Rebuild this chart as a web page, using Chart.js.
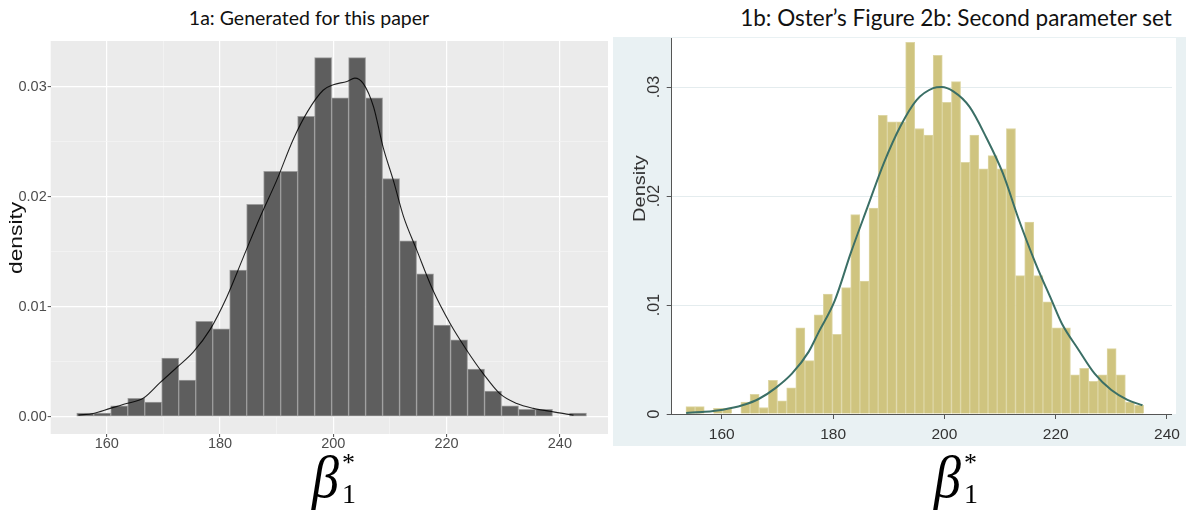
<!DOCTYPE html>
<html>
<head>
<meta charset="utf-8">
<script src="https://cdn.jsdelivr.net/npm/chart.js@4.4.1/dist/chart.umd.min.js"></script>
<style>
  html, body { margin: 0; padding: 0; background: #fff; }
  body { width: 1186px; height: 512px; position: relative; overflow: hidden; }
  .box { position: absolute; }
  .ttl { position: absolute; white-space: nowrap; font-family: Lato, "Open Sans", sans-serif; color: #111; transform: translateX(-50%); line-height: 1.2; }
  .ytitle { position: absolute; white-space: nowrap; transform-origin: 0 0; line-height: 1; }
  .beta { position: absolute; font-family: "Liberation Serif", "DejaVu Serif", serif; font-style: italic; color: #000; line-height: 1; }
  .beta .b { font-size: 54px; display: inline-block; transform: scaleY(1.1); }
  .beta .sp { position: absolute; font-size: 26px; font-style: normal; left: 30px; top: 0px; }
  .beta .sb { position: absolute; font-size: 28px; font-style: normal; left: 30px; top: 30px; }
</style>
</head>
<body>
<div class="ttl" style="left:309px; top:6px; font-size:19.5px;">1a: Generated for this paper</div>
<div class="ttl" style="left:956px; top:4px; font-size:22.5px;">1b: Oster’s Figure 2b: Second parameter set</div>

<div class="box" style="left:0; top:0; width:610px; height:460px;"><canvas id="ggHist"></canvas></div>
<div class="box" style="left:600px; top:0; width:586px; height:460px;"><canvas id="stataHist"></canvas></div>

<div class="ytitle" style="left:6px; top:274px; transform: rotate(-90deg) scaleX(1.2); font-family:'Liberation Sans',Arial,sans-serif; font-size:19px; color:#111;">density</div>
<div class="ytitle" style="left:631px; top:222px; transform: rotate(-90deg) scaleX(1.18); font-family:'Liberation Sans',Arial,sans-serif; font-size:17px; color:#333;">Density</div>

<div class="beta" style="left:312px; top:450px;"><span class="b">β</span><span class="sp">*</span><span class="sb">1</span></div>
<div class="beta" style="left:934px; top:450px;"><span class="b">β</span><span class="sp">*</span><span class="sb">1</span></div>

<script>
// ---------- 1a: ggplot-style histogram (30 bins of width 3) with kernel density ----------
const ggBinCenters = [156.2, 159.2, 162.2, 165.2, 168.2, 171.2, 174.2, 177.2, 180.2, 183.2,
                      186.2, 189.2, 192.2, 195.2, 198.2, 201.2, 204.2, 207.2, 210.2, 213.2,
                      216.2, 219.2, 222.2, 225.2, 228.2, 231.2, 234.2, 237.2, 240.2, 243.2];
const ggDensity = [0.00033, 0.00033, 0.00100, 0.00167, 0.00133, 0.00533, 0.00333, 0.00867, 0.00800, 0.01333,
                   0.01933, 0.02233, 0.02233, 0.02733, 0.03267, 0.02900, 0.03267, 0.02900, 0.02167, 0.01600,
                   0.01300, 0.00833, 0.00700, 0.00433, 0.00233, 0.00100, 0.00067, 0.00067, 0.00000, 0.00033];
const kdeX = [155.0, 157.6, 160.6, 163.5, 166.5, 169.4, 172.4, 175.3, 178.2, 181.2,
              184.1, 187.1, 190.0, 192.9, 195.5, 198.2, 200.0, 202.4, 203.8, 205.3,
              207.1, 208.8, 210.6, 212.4, 214.7, 217.6, 220.6, 223.5, 226.5, 229.4,
              232.4, 235.3, 238.2, 241.2, 242.4];
const kdeY = [0.00015, 0.0003, 0.00076, 0.0012, 0.0017, 0.0031, 0.0045, 0.0059, 0.0079, 0.0109,
              0.0145, 0.0182, 0.0215, 0.0252, 0.0278, 0.0297, 0.0302, 0.0305, 0.0308, 0.0303,
              0.0282, 0.0245, 0.0215, 0.0182, 0.0152, 0.0115, 0.0085, 0.0061, 0.0039, 0.0021,
              0.0012, 0.00076, 0.0005, 0.00024, 0.00015];
const ggXMajor = [160, 180, 200, 220, 240];
const ggXMinor = [170, 190, 210, 230];
const ggYMajor = [0, 0.01, 0.02, 0.03];
const ggYMinor = [0.005, 0.015, 0.025];
const ggYLabels = ['0.00', '0.01', '0.02', '0.03'];

// ---------- 1b: Stata-style histogram (50 bins) with normal density ----------
const stBinCenters = [154.38, 156.03, 157.67, 159.32, 160.96, 162.61, 164.25, 165.90, 167.54, 169.19,
                      170.83, 172.48, 174.12, 175.77, 177.41, 179.06, 180.70, 182.35, 183.99, 185.64,
                      187.28, 188.93, 190.57, 192.22, 193.86, 195.51, 197.15, 198.80, 200.44, 202.09,
                      203.73, 205.38, 207.02, 208.67, 210.31, 211.96, 213.60, 215.25, 216.89, 218.54,
                      220.18, 221.83, 223.47, 225.12, 226.76, 228.41, 230.05, 231.70, 233.34, 234.99];
const stDensity = [0.00067, 0.00067, 0.0, 0.00052, 0.00052, 0.0, 0.0011, 0.0018, 0.0006, 0.0031,
                   0.0012, 0.0024, 0.0079, 0.0049, 0.0091, 0.0110, 0.0073, 0.0116, 0.0183, 0.0122,
                   0.0189, 0.0274, 0.0268, 0.0268, 0.0341, 0.0262, 0.0256, 0.0329, 0.0286, 0.0305,
                   0.0231, 0.0256, 0.0225, 0.0237, 0.0225, 0.0262, 0.0127, 0.0176, 0.0127, 0.0103,
                   0.0079, 0.0079, 0.0036, 0.0042, 0.0030, 0.0036, 0.0060, 0.0036, 0.0011, 0.0008];
const normX = [153.6, 156.9, 160.2, 163.7, 166.7, 169.7, 172.6, 175.6, 177.3, 180.3,
               183.2, 186.2, 189.1, 192.1, 195.0, 198.0, 199.5, 201.6, 204.5, 207.5,
               210.5, 213.4, 216.4, 219.3, 221.1, 224.1, 227.0, 230.0, 232.9, 235.6];
const normY = [0.0001, 0.0002, 0.0004, 0.0008, 0.0014, 0.0024, 0.0037, 0.0057, 0.0074, 0.0104,
               0.0148, 0.0190, 0.0230, 0.0264, 0.0288, 0.0299, 0.0300, 0.0296, 0.0282, 0.0254,
               0.0221, 0.0178, 0.0138, 0.0104, 0.0083, 0.0059, 0.0037, 0.0022, 0.0013, 0.0008];
const stXTicks = [160, 180, 200, 220, 240];
const stYTicks = [0, 0.01, 0.02, 0.03];
const stYLabels = ['0', '.01', '.02', '.03'];

const pairs = (xs, ys) => xs.map((x, i) => ({ x: x, y: ys[i] }));
const tickFont = '"Liberation Sans", Arial, sans-serif';
const tickVal = c => (c && c.tick) ? c.tick.value : NaN;
const isMajor = (list, c) => list.includes(tickVal(c));

// fills the plotting area (and optionally an outer graph region) before anything else is drawn
const panelFill = {
  id: 'panelFill',
  beforeDraw(chart, args, opts) {
    const { ctx, chartArea: a } = chart;
    ctx.save();
    if (opts.outer) {
      ctx.fillStyle = opts.outer.color;
      ctx.fillRect(opts.outer.x, opts.outer.y, opts.outer.w, opts.outer.h);
    }
    ctx.fillStyle = opts.color;
    ctx.fillRect(a.left, a.top, a.right - a.left + (opts.extendRight || 0), a.bottom - a.top);
    ctx.restore();
  }
};

new Chart(document.getElementById('ggHist'), {
  type: 'bar',
  data: {
    datasets: [
      {
        type: 'line',
        data: pairs(kdeX, kdeY),
        borderColor: 'rgba(0,0,0,0.85)',
        borderWidth: 1.1,
        pointRadius: 0,
        cubicInterpolationMode: 'monotone',
        fill: false,
        order: 0
      },
      {
        type: 'bar',
        data: pairs(ggBinCenters, ggDensity),
        backgroundColor: '#5e5e5e',
        borderColor: '#9c9c9c',
        borderWidth: 1,
        borderSkipped: false,
        barPercentage: 1,
        categoryPercentage: 1,
        order: 1
      }
    ]
  },
  options: {
    responsive: true,
    maintainAspectRatio: false,
    animation: false,
    devicePixelRatio: 1,
    layout: { padding: { top: 41, right: 2, left: 0, bottom: 0 } },
    plugins: {
      legend: { display: false },
      tooltip: { enabled: false },
      panelFill: { color: '#ebebeb' }
    },
    scales: {
      x: {
        type: 'linear',
        offset: false,
        min: 150.1,
        max: 248.5,
        afterBuildTicks: s => { s.ticks = ggXMajor.concat(ggXMinor).sort((a, b) => a - b).map(v => ({ value: v })); },
        afterFit: s => { s.height = 26; },
        border: { display: false },
        grid: {
          offset: false,
          color: c => isMajor(ggXMajor, c) ? '#ffffff' : '#f5f5f5',
          lineWidth: c => isMajor(ggXMajor, c) ? 1.2 : 0.7,
          tickColor: c => isMajor(ggXMajor, c) ? '#4d4d4d' : 'rgba(0,0,0,0)',
          tickLength: 3,
          tickWidth: 1
        },
        ticks: {
          padding: -2,
          color: '#4d4d4d',
          font: { family: tickFont, size: 14.5 },
          maxRotation: 0,
          autoSkip: false,
          callback: v => ggXMajor.includes(v) ? String(v) : ''
        }
      },
      y: {
        min: -0.00157,
        max: 0.03418,
        afterBuildTicks: s => { s.ticks = ggYMajor.concat(ggYMinor).sort((a, b) => a - b).map(v => ({ value: v })); },
        afterFit: s => { s.width = 50.7; },
        border: { display: false },
        grid: {
          color: c => isMajor(ggYMajor, c) ? '#ffffff' : '#f5f5f5',
          lineWidth: c => isMajor(ggYMajor, c) ? 1.2 : 0.7,
          tickColor: c => isMajor(ggYMajor, c) ? '#4d4d4d' : 'rgba(0,0,0,0)',
          tickLength: 3,
          tickWidth: 1
        },
        ticks: {
          padding: 1,
          color: '#4d4d4d',
          font: { family: tickFont, size: 14.5 },
          autoSkip: false,
          callback: v => { const i = ggYMajor.indexOf(v); return i >= 0 ? ggYLabels[i] : ''; }
        }
      }
    }
  },
  plugins: [panelFill]
});

new Chart(document.getElementById('stataHist'), {
  type: 'bar',
  data: {
    datasets: [
      {
        type: 'line',
        data: pairs(normX, normY),
        borderColor: '#3b6f66',
        borderWidth: 2,
        pointRadius: 0,
        cubicInterpolationMode: 'monotone',
        fill: false,
        order: 0
      },
      {
        type: 'bar',
        data: pairs(stBinCenters, stDensity),
        backgroundColor: '#cfc47f',
        borderColor: '#ddd6a4',
        borderWidth: 1,
        borderSkipped: 'start',
        barPercentage: 1,
        categoryPercentage: 1,
        order: 1
      }
    ]
  },
  options: {
    responsive: true,
    maintainAspectRatio: false,
    animation: false,
    devicePixelRatio: 1,
    layout: { padding: { top: 38, right: 8, left: 0, bottom: 0 } },
    plugins: {
      legend: { display: false },
      tooltip: { enabled: false },
      panelFill: { color: '#ffffff', extendRight: 4, outer: { color: '#e9f1f3', x: 13, y: 37, w: 573, h: 409 } }
    },
    scales: {
      x: {
        type: 'linear',
        offset: false,
        min: 151.0,
        max: 240.9,
        afterBuildTicks: s => { s.ticks = stXTicks.map(v => ({ value: v })); },
        afterFit: s => { s.height = 46; },
        border: { display: true, color: '#555', width: 1 },
        grid: { offset: false, drawOnChartArea: false, tickColor: '#555', tickLength: 5, tickWidth: 1 },
        ticks: {
          padding: 6,
          color: '#333',
          font: { family: tickFont, size: 15.5 },
          maxRotation: 0,
          autoSkip: false,
          callback: v => String(v)
        }
      },
      y: {
        min: 0,
        max: 0.0345,
        afterBuildTicks: s => { s.ticks = stYTicks.map(v => ({ value: v })); },
        afterFit: s => { s.width = 71.7; },
        border: { display: true, color: '#555', width: 1 },
        grid: {
          color: c => tickVal(c) === 0 ? 'rgba(0,0,0,0)' : '#e4ecee',
          lineWidth: 1,
          tickColor: '#555',
          tickLength: 5,
          tickWidth: 1
        },
        ticks: {
          padding: 1,
          color: '#333',
          font: { family: tickFont, size: 16 },
          minRotation: 90,
          maxRotation: 90,
          crossAlign: 'center',
          autoSkip: false,
          callback: v => { const i = stYTicks.indexOf(v); return i >= 0 ? stYLabels[i] : ''; }
        }
      }
    }
  },
  plugins: [panelFill]
});
</script>
</body>
</html>
